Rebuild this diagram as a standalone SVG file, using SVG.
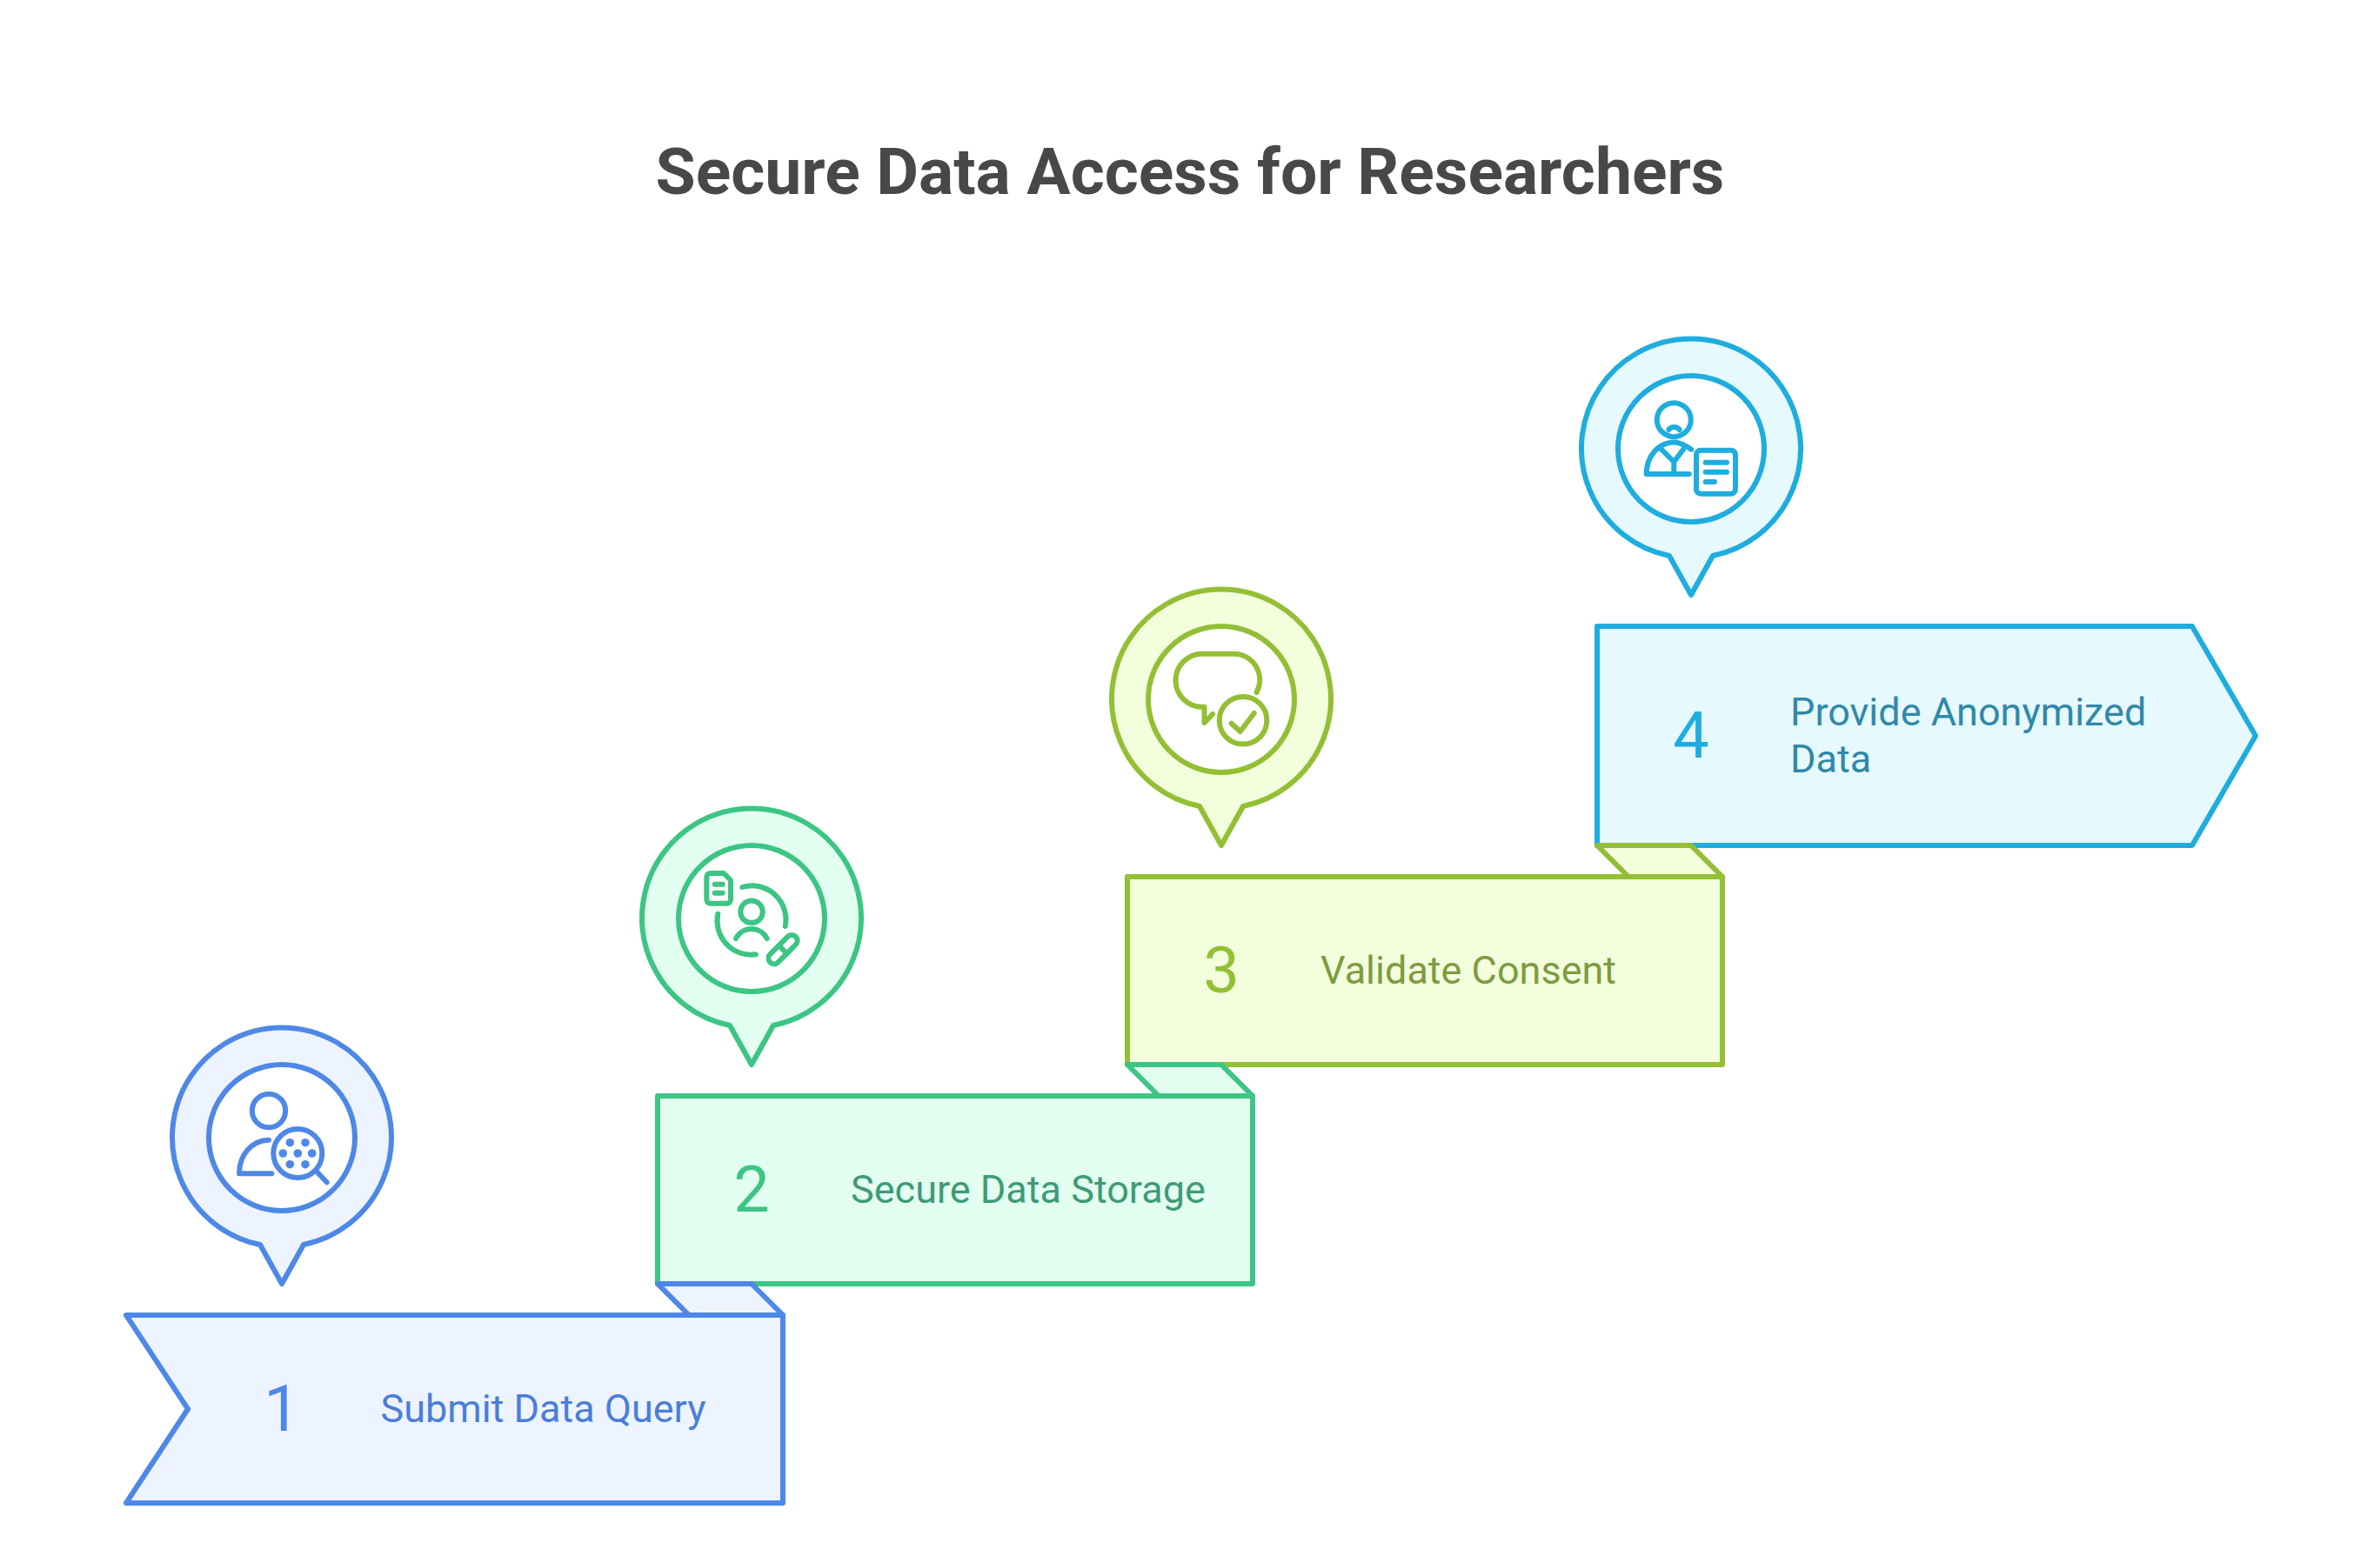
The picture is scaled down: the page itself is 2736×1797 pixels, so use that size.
<svg xmlns="http://www.w3.org/2000/svg" width="2736" height="1797" viewBox="0 0 2736 1797">
<style>
text{font-family:Roboto,"Liberation Sans",sans-serif}
.t{font-size:75px;font-weight:700;fill:#484848;text-anchor:middle}
.n{font-size:74px;font-weight:400;text-anchor:middle}
.l{font-size:45px;font-weight:400}
.s{stroke-width:6;stroke-linejoin:round;stroke-linecap:round}
.i{fill:none;stroke-width:6;stroke-linejoin:round;stroke-linecap:round}
.w{fill:#fff}
.blue{stroke:#4e88e7}.bluef{fill:#edf4ff}
.green{stroke:#3cc583}.greenf{fill:#e2fff1}
.olive{stroke:#93bf35}.olivef{fill:#f3ffdc}
.cyan{stroke:#1eadde}.cyanf{fill:#e6f9ff}
</style>
<defs>
<path id="pin" d="M-25 123 A126 126 0 1 1 25 123 L0 168 Z"/>
</defs>
<rect width="2736" height="1797" fill="#fff"/>
<text class="t" x="1368" y="223">Secure Data Access for Researchers</text>

<g id="node-4">
<path class="s cyan cyanf" d="M1836 720 H2520 L2593 846 L2520 972 H1836 Z"/>
<text class="n" x="1944" y="871" fill="#1eadde">4</text>
<text class="l" fill="#3188a8"><tspan x="2058" y="834">Provide Anonymized</tspan><tspan x="2058" y="888">Data</tspan></text>
<g transform="translate(1944 516)"><use href="#pin" class="s cyan cyanf"/><circle class="s cyan w" r="84"/></g>
<g class="i cyan" id="icon-4">
<circle cx="1924.3" cy="482.7" r="19.5"/>
<path d="M1918.3 494 A8 8 0 0 1 1930.7 494"/>
<path d="M1944.3 516.7 C1936 511 1930 508.5 1925 508.5 C1906 508.5 1892.7 525 1892.7 545 H1941.7"/>
<path d="M1910 516.7 L1924.3 531 L1935 516.7 M1924.3 531 V544"/>
<rect x="1950" y="517.7" width="45" height="50" rx="5"/>
<path d="M1960.7 531.7 H1985 M1960.7 542.7 H1985 M1960.7 554 H1971"/>
</g>
</g>

<g id="node-3">
<path class="s olive olivef" d="M1836 972 H1944 L1980 1008 H1872 Z"/>
<path class="s olive olivef" d="M1296 1008 H1980 V1224 H1296 Z"/>
<text class="n" x="1404" y="1141" fill="#93bf35">3</text>
<text class="l" x="1518" y="1131" fill="#7e9b3f">Validate Consent</text>
<g transform="translate(1404 804)"><use href="#pin" class="s olive olivef"/><circle class="s olive w" r="84"/></g>
<g class="i olive" id="icon-3">
<path d="M1444.5 796 A30 30 0 0 0 1420 751.7 H1382 A30.5 30.5 0 0 0 1382 812.7 H1384.5 V831 L1394 821"/>
<circle cx="1429" cy="828.3" r="27.3"/>
<path d="M1415.7 831.7 L1425.7 841 L1441.7 820"/>
</g>
</g>

<g id="node-2">
<path class="s green greenf" d="M1296 1224 H1404 L1440 1260 H1332 Z"/>
<path class="s green greenf" d="M756 1260 H1440 V1476 H756 Z"/>
<text class="n" x="864" y="1393" fill="#3cc583">2</text>
<text class="l" x="978" y="1383" fill="#3f9a76">Secure Data Storage</text>
<g transform="translate(864 1056)"><use href="#pin" class="s green greenf"/><circle class="s green w" r="84"/></g>
<g class="i green" id="icon-2">
<path d="M817 1004 H832 L840 1012 V1034 A4.5 4.5 0 0 1 835.5 1038.7 H817 A4.5 4.5 0 0 1 812.3 1034 V1008.5 A4.5 4.5 0 0 1 817 1004 Z"/>
<path d="M821.7 1016.7 H830.7 M821.7 1026.7 H830.7"/>
<path d="M853.3 1020 A39 39 0 0 1 902.7 1065"/>
<path d="M825.3 1050.7 A39 39 0 0 0 868.7 1097.3"/>
<circle cx="864" cy="1048.3" r="12.8"/>
<path d="M846 1079 A20 20 0 0 1 881.7 1079"/>
<g transform="translate(900 1091.7) rotate(-45)"><rect x="-20.8" y="-6.5" width="41.6" height="13" rx="6.5"/><path d="M0 -6.5 V6.5"/></g>
</g>
</g>

<g id="node-1">
<path class="s blue bluef" d="M756 1476 H864 L900 1512 H792 Z"/>
<path class="s blue bluef" d="M145 1512 H900 V1728 H145 L216 1620 Z"/>
<text class="n" x="324" y="1645" fill="#4e88e7">1</text>
<text class="l" x="437.500" y="1635" fill="#4a7ed8">Submit Data Query</text>
<g transform="translate(324 1308)"><use href="#pin" class="s blue bluef"/><circle class="s blue w" r="84"/></g>
<g class="i blue" id="icon-1">
<circle cx="309" cy="1277" r="19.2"/>
<path d="M309 1310.7 C289 1311 275 1328 275 1349.3 H312.3"/>
<circle cx="342.3" cy="1326" r="28"/>
<path d="M364.3 1347.3 L375.7 1359.3"/>
<g fill="#4e88e7" stroke="none">
<circle cx="333.3" cy="1313.7" r="4.8"/><circle cx="351" cy="1313.7" r="4.8"/><circle cx="325.3" cy="1326" r="4.8"/><circle cx="342.3" cy="1326" r="4.8"/><circle cx="358.7" cy="1326" r="4.8"/><circle cx="333.3" cy="1338.7" r="4.8"/><circle cx="351" cy="1338.7" r="4.8"/>
</g>
</g>
</g>
<g id="connectors"/>
</svg>
